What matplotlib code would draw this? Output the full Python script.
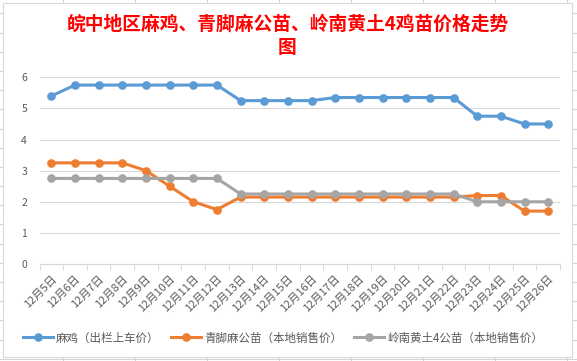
import matplotlib
matplotlib.use("Agg")
import matplotlib.pyplot as plt
from matplotlib.lines import Line2D
from matplotlib.patches import Rectangle

plt.rcParams['font.family'] = ['Noto Sans CJK SC', 'DejaVu Sans']

# data
dates = ["12月5日", "12月6日", "12月7日", "12月8日", "12月9日", "12月10日",
         "12月11日", "12月12日", "12月13日", "12月14日", "12月15日", "12月16日",
         "12月17日", "12月18日", "12月19日", "12月20日", "12月21日", "12月22日",
         "12月23日", "12月24日", "12月25日", "12月26日"]
maji = [5.4, 5.75, 5.75, 5.75, 5.75, 5.75, 5.75, 5.75, 5.25, 5.25, 5.25,
        5.25, 5.35, 5.35, 5.35, 5.35, 5.35, 5.35, 4.75, 4.75, 4.5, 4.5]
qingjiao = [3.25, 3.25, 3.25, 3.25, 3.0, 2.5, 2.0, 1.75, 2.15, 2.15, 2.15,
            2.15, 2.15, 2.15, 2.15, 2.15, 2.15, 2.15, 2.2, 2.2, 1.7, 1.7]
lingnan = [2.75, 2.75, 2.75, 2.75, 2.75, 2.75, 2.75, 2.75, 2.25, 2.25, 2.25,
           2.25, 2.25, 2.25, 2.25, 2.25, 2.25, 2.25, 2.0, 2.0, 2.0, 2.0]
names = ["麻鸡（出栏上车价）", "青脚麻公苗（本地销售价）", "岭南黄土4公苗（本地销售价）"]
colors = ["#5B9BD5", "#ED7D31", "#A5A5A5"]

W, H = 577, 361
fig = plt.figure(figsize=(W / 100, H / 100), dpi=100)

# spreadsheet cells behind the chart
for x in range(63, W, 72):
    fig.add_artist(Line2D([x / W, x / W], [0, 1], color="#D4D4D4", lw=0.8,
                          transform=fig.transFigure, zorder=-3))
y = 13.3
while y < H:
    fig.add_artist(Line2D([0, 1], [1 - y / H, 1 - y / H], color="#D4D4D4", lw=0.8,
                          transform=fig.transFigure, zorder=-3))
    y += 19.2
fig.add_artist(Rectangle((3 / W, 1 - 357 / H), 569 / W, 354 / H, facecolor="white",
                         edgecolor="#D9D9D9", lw=0.8, transform=fig.transFigure,
                         zorder=-2))

ax = fig.add_axes([39.5 / W, (H - 264) / H, 520.5 / W, 186.7 / H])
ax.set_facecolor("white")

x = range(len(dates))
for vals, name, c in zip([maji, qingjiao, lingnan], names, colors):
    ax.plot(x, vals, color=c, lw=2.2, marker="o", markersize=5.2, label=name)

ax.set_xlim(-0.5, len(dates) - 0.5)
ax.set_ylim(0, 6)
ax.set_yticks(range(0, 7))
ax.yaxis.grid(True, color="#D9D9D9", lw=0.8)
ax.set_axisbelow(True)
for s in ["top", "right", "left"]:
    ax.spines[s].set_visible(False)
ax.spines["bottom"].set_color("#D9D9D9")
ax.tick_params(axis="y", length=0, pad=9, labelsize=7.5, labelcolor="#595959")

ax.set_xticks(list(x))
ax.set_xticklabels(dates, rotation=45, ha="right", va="top", rotation_mode="anchor")
ax.set_xticks([i - 0.5 for i in range(len(dates) + 1)], minor=True)
ax.tick_params(axis="x", which="major", length=0, pad=7, labelsize=8,
               labelcolor="#595959")
ax.tick_params(axis="x", which="minor", length=4, color="#D9D9D9", width=0.8)

fig.text(0.498, 1 - 36 / H, "皖中地区麻鸡、青脚麻公苗、岭南黄土4鸡苗价格走势\n图",
         ha="center", va="center", color="red", fontsize=13.5, fontweight="bold",
         linespacing=1.25)

fig.legend(loc="center", bbox_to_anchor=(283 / W, 1 - 338 / H), ncol=3,
           frameon=False, fontsize=8.3, labelcolor="#595959", handlelength=2.6,
           handletextpad=0.3, columnspacing=1.0)

fig.savefig("out.png", dpi=100)
